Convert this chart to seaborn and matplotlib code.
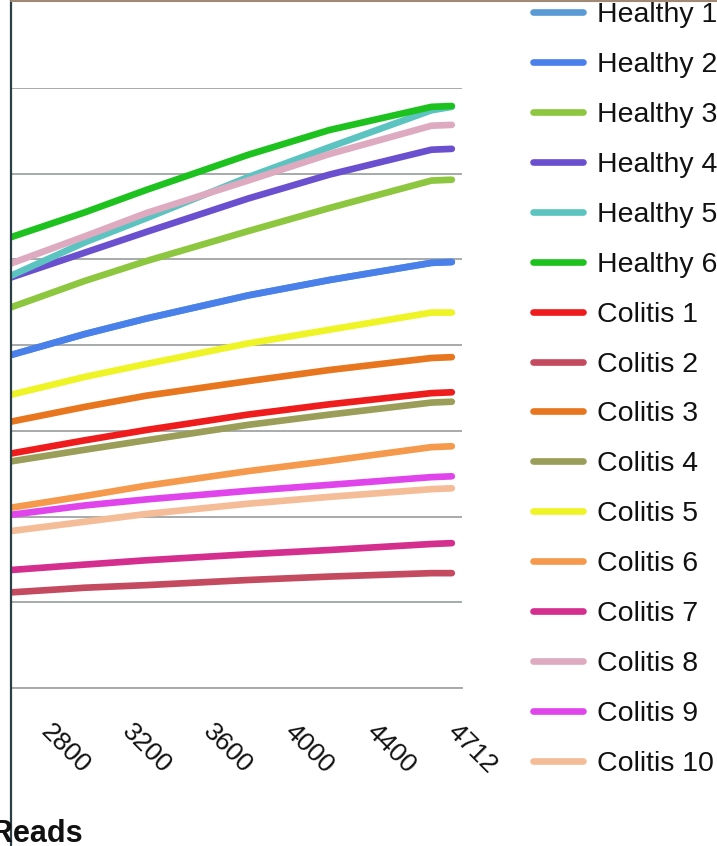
import matplotlib
matplotlib.use("Agg")
import matplotlib.pyplot as plt
from matplotlib.lines import Line2D
import seaborn as sns
import pandas as pd

# category axis (Excel style): one slot per read depth
read_categories = [2600, 2700, 2800, 2900, 3000, 3100, 3200, 3300, 3400, 3500, 3600,
                   3700, 3800, 3900, 4000, 4100, 4200, 4300, 4400, 4500, 4600, 4700, 4712]
tick_reads = [2800, 3200, 3600, 4000, 4400, 4712]

sample_reads = [2600, 3000, 3300, 3800, 4200, 4700, 4712]

series_names = ["Healthy 1", "Healthy 2", "Healthy 3", "Healthy 4", "Healthy 5", "Healthy 6",
                "Colitis 1", "Colitis 2", "Colitis 3", "Colitis 4", "Colitis 5",
                "Colitis 6", "Colitis 7", "Colitis 8", "Colitis 9", "Colitis 10"]

healthy_1 = [386, 413, 431, 458, 476, 496, 497]
healthy_2 = [386, 413, 431, 458, 476, 496, 497]
healthy_3 = [441, 475, 498, 533, 560, 592, 593]
healthy_4 = [476, 508, 532, 571, 599, 628, 629]
healthy_5 = [477, 520, 548, 596, 631, 674, 678]
healthy_6 = [523, 555, 581, 622, 651, 678, 679]
colitis_1 = [272, 289, 301, 319, 331, 344, 345]
colitis_2 = [111, 117, 120, 126, 130, 134, 134]
colitis_3 = [309, 328, 341, 358, 371, 385, 386]
colitis_4 = [263, 278, 289, 307, 319, 333, 334]
colitis_5 = [340, 363, 378, 402, 418, 438, 438]
colitis_6 = [209, 224, 236, 253, 265, 281, 282]
colitis_7 = [137, 144, 149, 156, 161, 168, 169]
colitis_8 = [492, 527, 554, 592, 623, 656, 657]
colitis_9 = [201, 213, 220, 230, 237, 246, 247]
colitis_10 = [182, 194, 203, 215, 223, 232, 233]

colours = ["#5b9bd5", "#4a80ea", "#8dc63f", "#6a4fcf", "#5cc4c0", "#1ec21e",
           "#ee1c1c", "#c44a60", "#e8761e", "#9a9e58", "#eef426",
           "#f5994c", "#d42e8e", "#deaabf", "#e045ec", "#f5bc98"]

all_values = [healthy_1, healthy_2, healthy_3, healthy_4, healthy_5, healthy_6,
              colitis_1, colitis_2, colitis_3, colitis_4, colitis_5,
              colitis_6, colitis_7, colitis_8, colitis_9, colitis_10]

rows = []
for name, vals in zip(series_names, all_values):
    for r, v in zip(sample_reads, vals):
        rows.append((name, read_categories.index(r), v))
df = pd.DataFrame(rows, columns=["sample", "pos", "otus"])

sns.set_style("white")
plt.rcParams["font.family"] = ["Liberation Sans", "DejaVu Sans"]

W, H = 717, 846
fig = plt.figure(figsize=(W / 100, H / 100), dpi=100)
fig.patch.set_facecolor("white")
ax = fig.add_axes([11 / W, (H - 688) / H, 451 / W, 600 / H])

grid_col = "#a6aaaa"
sns.lineplot(data=df, x="pos", y="otus", hue="sample", hue_order=series_names,
             palette=dict(zip(series_names, colours)), linewidth=4.8,
             solid_capstyle="round", solid_joinstyle="round", ax=ax, legend=False, sort=False)

ax.set_xlim(0.37, 22.5)
ax.set_ylim(0, 700)
ax.set_yticks(range(0, 701, 100))
ax.yaxis.grid(True, color=grid_col, linewidth=1.4)
ax.set_axisbelow(True)
ax.tick_params(axis="y", left=False, labelleft=False)
for s in ["left", "right", "top"]:
    ax.spines[s].set_visible(False)
ax.spines["bottom"].set_color(grid_col)
ax.spines["bottom"].set_linewidth(1.4)

tick_pos = [read_categories.index(r) for r in tick_reads]
ax.set_xticks(tick_pos)
ax.set_xticklabels([str(r) for r in tick_reads], rotation=-45, ha="left", va="center",
                   rotation_mode="anchor", fontsize=19, color="#111111")
ax.tick_params(axis="x", which="major", length=0, pad=29)
ax.set_xticks([p - 0.5 for p in tick_pos], minor=True)
ax.tick_params(axis="x", which="minor", length=6.5, width=1.4, color=grid_col)
ax.set_xlabel("")
ax.set_ylabel("")

handles = [Line2D([0], [0], color=c, linewidth=4.8, solid_capstyle="round") for c in colours]
fig.legend(handles, series_names, loc="center left", bbox_to_anchor=(533 / W, (H - 389.5) / H),
           frameon=False, fontsize=20.5, handlelength=1.75, handletextpad=0.5,
           labelspacing=0.84, borderpad=0, borderaxespad=0, labelcolor="#111111")

fig.text(-9 / W, 4 / H, "Reads", fontsize=22, fontweight="bold", color="#111111",
         ha="left", va="baseline")

# photo frame edges
fig.add_artist(Line2D([11 / W, 11 / W], [0, 1], color="#2c3f46", linewidth=1.6))
fig.add_artist(Line2D([11 / W, 1], [1 - 1.5 / H, 1 - 1.5 / H], color="#a08a74", linewidth=1.5))

fig.savefig("out.png", dpi=100)
